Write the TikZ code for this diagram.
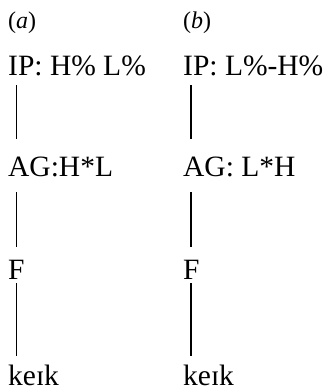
\documentclass[tikz,border=0pt]{standalone}
\usepackage{fontspec}
\setmainfont{Liberation Serif}
\begin{document}
\begin{tikzpicture}[x=1pt,y=-1pt,
  lbl/.style={inner sep=0pt,anchor=base west,font=\fontsize{29.5}{32}\selectfont},
  tag/.style={inner sep=0pt,anchor=base west,font=\fontsize{24}{28}\selectfont},
  link/.style={line width=1.3pt}]
\useasboundingbox (0,0) rectangle (328,389);
% column positions of the association lines
\coordinate (xa) at (16.7,0);
\coordinate (xb) at (191,0);
% column (a)
\node[tag] (ta) at (8,28) {(\textit{a})};
\node[lbl] (ipa) at (8,75) {IP: H\% L\%};
\node[lbl] (aga) at (8,176) {AG:H*L};
\node[lbl] (fa) at (8,279) {F};
\node[lbl] (wa) at (8,385) {keɪk};
% column (b)
\node[tag] (tb) at (183,28) {(\textit{b})};
\node[lbl] (ipb) at (183,75) {IP: L\%-H\%};
\node[lbl] (agb) at (183,176) {AG: L*H};
\node[lbl] (fb) at (183,279) {F};
\node[lbl] (wb) at (183,385) {keɪk};
% association lines
\foreach \c/\up/\lo in {a/ipa/aga, b/ipb/agb}{
  \draw[link] ([yshift=-10pt]\up.base -| x\c) -- ([yshift=37pt]\lo.base -| x\c);
}
\foreach \c/\up/\lo in {a/aga/fa, b/agb/fb}{
  \draw[link] ([yshift=-16pt]\up.base -| x\c) -- ([yshift=32pt]\lo.base -| x\c);
}
\foreach \c/\up/\lo in {a/fa/wa, b/fb/wb}{
  \draw[link] ([yshift=-4pt]\up.base -| x\c) -- ([yshift=29pt]\lo.base -| x\c);
}
\end{tikzpicture}
\end{document}
